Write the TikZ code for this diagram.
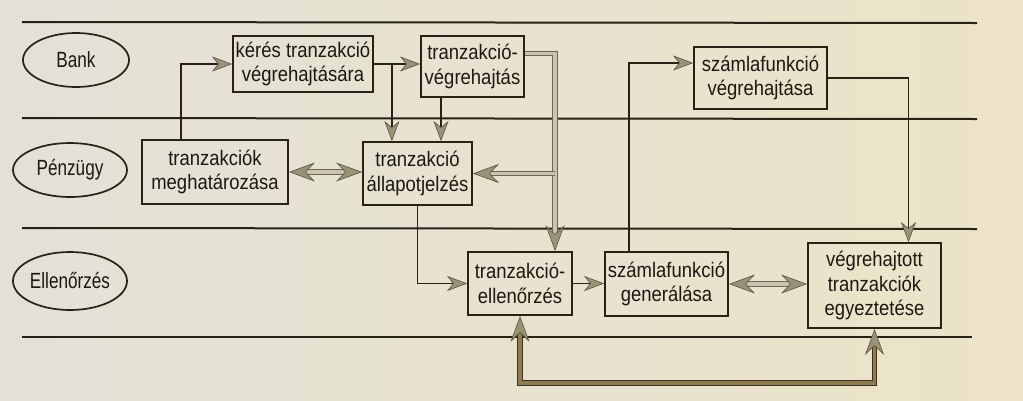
\documentclass[tikz,border=0pt]{standalone}
\usepackage{fontspec}
\setmainfont{Liberation Sans}[FakeStretch=0.88]
\newfontfamily\lanefont{Liberation Sans}[FakeStretch=0.78]
\usetikzlibrary{arrows.meta,shapes.geometric}
\definecolor{ink}{HTML}{2A2016}
\definecolor{txt}{HTML}{1C1812}
\definecolor{headgray}{HTML}{9A9277}
\definecolor{headedge}{HTML}{5A5240}
\definecolor{dblin}{HTML}{C9C4B0}
\definecolor{dblout}{HTML}{6E6652}
\definecolor{fbin}{HTML}{8E7C52}
\definecolor{fbout}{HTML}{3E3020}
\definecolor{bgl}{HTML}{E3E1D7}
\definecolor{bgr}{HTML}{ECE3C8}
\tikzset{
  lane/.style={draw=ink, line width=2pt},
  lanelbl/.style={ellipse, draw=ink, line width=1.7pt, inner sep=0pt, text=txt,
    font=\lanefont\fontsize{22}{24}\selectfont},
  box/.style={draw=ink, line width=1.8pt, inner sep=0pt, align=center, text=txt,
    font=\fontsize{21}{24.5}\selectfont},
  conn/.style={draw=ink, line width=1.8pt},
  arr/.style={-{Stealth[length=20pt,width=15pt,inset=6pt,fill=headgray,color=headedge,line width=0.6pt]}},
  bigarr/.style={-{Stealth[length=26pt,width=19pt,inset=9pt,fill=headgray,color=headedge,line width=0.6pt]}},
  bigboth/.style={{Stealth[length=26pt,width=19pt,inset=9pt,fill=headgray,color=headedge,line width=0.6pt]}-{Stealth[length=26pt,width=19pt,inset=9pt,fill=headgray,color=headedge,line width=0.6pt]}},
  dbl/.style={draw=dblout, double=dblin, line width=1pt, double distance=3.5pt},
  fb/.style={draw=fbout, double=fbin, line width=1pt, double distance=3.5pt},
}
\begin{document}
\begin{tikzpicture}[x=1pt,y=-1pt]
\shade[left color=bgl, right color=bgr] (0,0) rectangle (1023,400);
\useasboundingbox (0,0) rectangle (1023,400);
% lanes
\draw[lane] (22,22) -- (977,23);
\draw[lane] (22,118) -- (977,119);
\draw[lane] (22,228) -- (977,229);
\draw[lane] (22,337) -- (972,337);
\node[lanelbl, minimum width=106pt, minimum height=54pt] (lbank) at (76,60) {Bank};
\node[lanelbl, minimum width=114pt, minimum height=54pt] (lpenz) at (70,170) {Pénzügy};
\node[lanelbl, minimum width=114pt, minimum height=58pt] (lell) at (70,281) {Ellenőrzés};
% boxes
\node[box, minimum width=140pt, minimum height=56pt] (keres) at (303,64) {kérés tranzakció\\végrehajtására};
\node[box, minimum width=103pt, minimum height=61pt] (vh) at (472.5,66.5) {tranzakció-\\végrehajtás};
\node[box, minimum width=146pt, minimum height=64pt] (megh) at (215,172) {tranzakciók\\meghatározása};
\node[box, minimum width=109pt, minimum height=63pt] (all) at (417.5,173.5) {tranzakció\\állapotjelzés};
\node[box, minimum width=133pt, minimum height=62pt] (szv) at (760.5,78) {számlafunkció\\végrehajtása};
\node[box, minimum width=104pt, minimum height=63pt] (ell) at (520,283.5) {tranzakció-\\ellenőrzés};
\node[box, minimum width=123pt, minimum height=64pt] (gen) at (666.5,284) {számlafunkció\\generálása};
\node[box, minimum width=133pt, minimum height=85pt] (vt) at (874.5,285.5) {végrehajtott\\tranzakciók\\egyeztetése};
% helper coordinates
\coordinate (j1) at ([xshift=18pt]keres.east);
\coordinate (j2) at ([xshift=-31.5pt]vh.south);
\coordinate (j3) at ([xshift=-37.5pt]gen.north);
\coordinate (e7) at ([yshift=15pt]szv.west);
\coordinate (e8) at ([xshift=34pt]vt.north);
\coordinate (s9) at ([yshift=13pt]vh.east);
\coordinate (e9) at ([xshift=35pt]ell.north);
\coordinate (b13) at (0,383);
% thin connectors
\draw[conn,arr] ([xshift=40pt]megh.north west) |- (keres.west);
\draw[conn,arr] (keres.east) -- (keres.east -| vh.west);
\draw[conn,arr] (j1) -- (j1 |- all.north);
\draw[conn,arr] (j2) -- (j2 |- all.north);
\draw[conn,arr] (all.south) |- (ell.west);
\draw[conn,arr] (ell.east) -- (ell.east -| gen.west);
\draw[conn,arr] (j3) |- (e7);
\draw[conn,arr] (szv.east) -| (e8);
% double connectors
\draw[dbl,bigarr] (s9) -| (e9);
\draw[dbl,bigarr] (e9 |- all.east) -- (all.east);
\draw[dbl,bigboth] (megh.east) -- (megh.east -| all.west);
\draw[dbl,bigboth] (gen.east) -- (gen.east -| vt.west);
\draw[fb,bigboth] (ell.south) -- (ell.south |- b13) -| (vt.south);
\end{tikzpicture}
\end{document}
